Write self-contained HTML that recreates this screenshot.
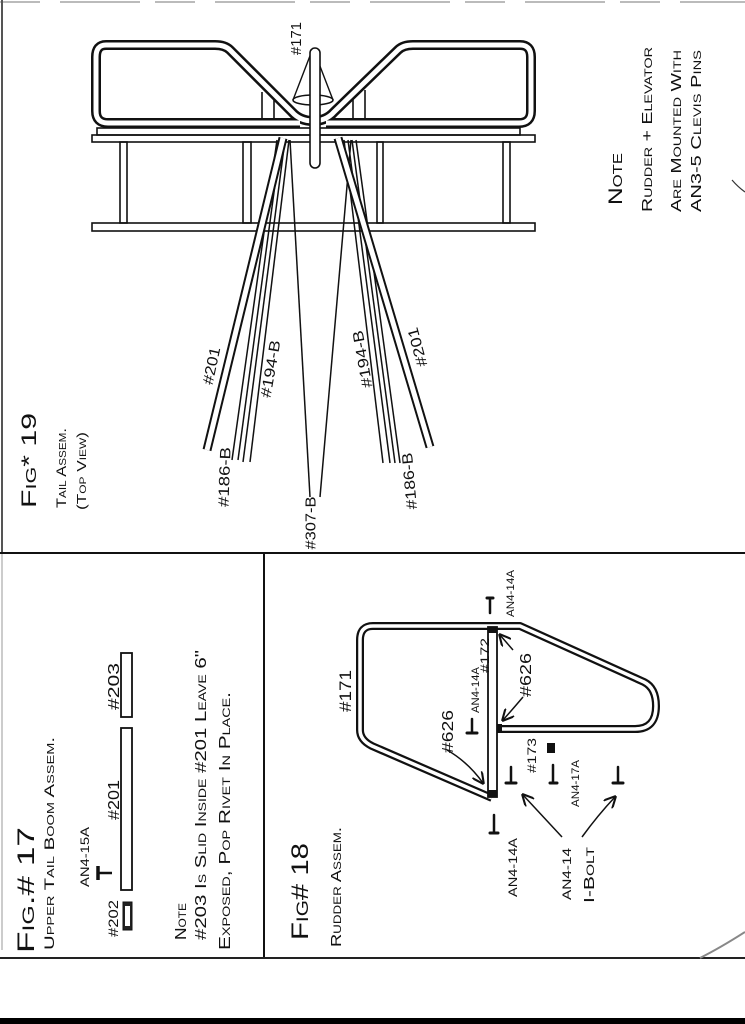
<!DOCTYPE html>
<html><head><meta charset="utf-8"><style>
html,body{margin:0;padding:0;background:#fff;}
svg{display:block;}
text{font-family:"Liberation Sans",sans-serif;fill:#111;font-variant:small-caps;}
</style></head><body>
<svg width="745" height="1024" viewBox="0 0 745 1024" xmlns="http://www.w3.org/2000/svg">
<rect width="745" height="1024" fill="#fff"/>
<line x1="0" y1="2" x2="745" y2="2" stroke="#bbb" stroke-width="2" stroke-dasharray="40 20 80 15"/>
<line x1="2" y1="0" x2="2" y2="553" stroke="#555" stroke-width="2"/>
<line x1="2" y1="553" x2="2" y2="950" stroke="#ccc" stroke-width="2"/>
<line x1="0" y1="553" x2="745" y2="553" stroke="#111" stroke-width="2"/>
<line x1="264" y1="553" x2="264" y2="957" stroke="#111" stroke-width="2"/>
<line x1="0" y1="958" x2="745" y2="958" stroke="#222" stroke-width="2"/>
<rect x="0" y="1018" width="745" height="6" fill="#000"/>

<!-- ============ FIG 19 tail ============ -->
<g fill="none" stroke="#111" stroke-width="1.6">
<rect x="97" y="128" width="423" height="7"/>
<rect x="92" y="135" width="443" height="7"/>
<rect x="92" y="223" width="443" height="8"/>
<rect x="120" y="142" width="7" height="81"/>
<rect x="243" y="142" width="8" height="81"/>
<rect x="377" y="142" width="6" height="81"/>
<rect x="503" y="142" width="7" height="81"/>
<line x1="262" y1="92" x2="262" y2="128"/><line x1="274" y1="100" x2="274" y2="128"/>
<line x1="353" y1="98" x2="353" y2="128"/><line x1="365" y1="90" x2="365" y2="128"/>
</g>
<g fill="none" stroke-linejoin="round">
<path d="M313 121 Q300 121 292 112 L230 50 Q225 45 215 45 L106 45 Q96 45 96 57 L96 111 Q96 123 108 123 L300 123 M313 121 Q326 121 334 112 L398 50 Q403 45 413 45 L520 45 Q531 45 531 57 L531 111 Q531 123 519 123 L326 123" stroke="#111" stroke-width="10"/>
<path d="M313 121 Q300 121 292 112 L230 50 Q225 45 215 45 L106 45 Q96 45 96 57 L96 111 Q96 123 108 123 L300 123 M313 121 Q326 121 334 112 L398 50 Q403 45 413 45 L520 45 Q531 45 531 57 L531 111 Q531 123 519 123 L326 123" stroke="#fff" stroke-width="5"/>
</g>
<path d="M313 48 L293 100 M313 48 L333 100" stroke="#111" stroke-width="1.4" fill="none"/>
<ellipse cx="313" cy="100" rx="20" ry="5" fill="#fff" stroke="#111" stroke-width="1.6"/>
<rect x="310" y="48" width="10" height="120" rx="5" fill="#fff" stroke="#111" stroke-width="1.6"/>
<g stroke="#111" stroke-width="1.5" fill="none">
<line x1="277" y1="140" x2="232" y2="460"/><line x1="281" y1="140" x2="238" y2="460"/>
<line x1="285" y1="140" x2="243" y2="462"/><line x1="289" y1="140" x2="250" y2="462"/>
<line x1="344" y1="140" x2="383" y2="463"/><line x1="348" y1="140" x2="390" y2="463"/>
<line x1="352" y1="140" x2="395" y2="463"/><line x1="356" y1="140" x2="400" y2="463"/>
<line x1="290" y1="140" x2="310" y2="497"/><line x1="351" y1="140" x2="320" y2="497"/>
</g>
<g stroke-linecap="butt">
<line x1="283" y1="138" x2="207" y2="450" stroke="#111" stroke-width="9"/>
<line x1="283" y1="138" x2="207" y2="450" stroke="#fff" stroke-width="5"/>
<line x1="338" y1="138" x2="430" y2="447" stroke="#111" stroke-width="9"/>
<line x1="338" y1="138" x2="430" y2="447" stroke="#fff" stroke-width="5"/>
</g>
<text transform="translate(301,55) rotate(-90)" font-size="15" textLength="33" lengthAdjust="spacingAndGlyphs">#171</text>
<g font-size="15" text-anchor="middle" dominant-baseline="central">
<text transform="translate(212,366) rotate(-78)" textLength="38" lengthAdjust="spacingAndGlyphs">#201</text>
<text transform="translate(271,369) rotate(-80)" textLength="58" lengthAdjust="spacingAndGlyphs">#194-B</text>
<text transform="translate(225,477) rotate(-88)" textLength="60" lengthAdjust="spacingAndGlyphs">#186-B</text>
<text transform="translate(311,523) rotate(-90)" textLength="53" lengthAdjust="spacingAndGlyphs">#307-B</text>
<text transform="translate(363,359) rotate(-100)" textLength="58" lengthAdjust="spacingAndGlyphs">#194-B</text>
<text transform="translate(418,347) rotate(-105)" textLength="40" lengthAdjust="spacingAndGlyphs">#201</text>
<text transform="translate(410,481) rotate(-95)" textLength="57" lengthAdjust="spacingAndGlyphs">#186-B</text>
</g>
<text transform="translate(36,508) rotate(-90)" font-size="21" textLength="95" lengthAdjust="spacingAndGlyphs">Fig* 19</text>
<text transform="translate(66,508) rotate(-90)" font-size="14" textLength="80" lengthAdjust="spacingAndGlyphs">Tail Assem.</text>
<text transform="translate(86,510) rotate(-90)" font-size="13" textLength="78" lengthAdjust="spacingAndGlyphs">(Top View)</text>
<text transform="translate(622,205) rotate(-90)" font-size="19" textLength="52" lengthAdjust="spacingAndGlyphs">Note</text>
<text transform="translate(652,212) rotate(-90)" font-size="15" textLength="165" lengthAdjust="spacingAndGlyphs">Rudder + Elevator</text>
<text transform="translate(681,212) rotate(-90)" font-size="15" textLength="162" lengthAdjust="spacingAndGlyphs">Are Mounted With</text>
<text transform="translate(701,212) rotate(-90)" font-size="15" textLength="162" lengthAdjust="spacingAndGlyphs">AN3-5 Clevis Pins</text>
<path d="M732 180 Q738 187 745 192" stroke="#333" stroke-width="1.2" fill="none"/>

<!-- ============ FIG 17 ============ -->
<text transform="translate(34,953) rotate(-90)" font-size="24" textLength="126" lengthAdjust="spacingAndGlyphs">Fig.# 17</text>
<text transform="translate(54,950) rotate(-90)" font-size="14" textLength="213" lengthAdjust="spacingAndGlyphs">Upper Tail Boom Assem.</text>
<text transform="translate(89,887) rotate(-90)" font-size="12" textLength="60" lengthAdjust="spacingAndGlyphs">AN4-15A</text>
<line x1="98" y1="873" x2="112" y2="873" stroke="#111" stroke-width="2.5"/>
<line x1="98" y1="866" x2="98" y2="880" stroke="#111" stroke-width="3.5"/>
<text transform="translate(118,937) rotate(-90)" font-size="14" textLength="37" lengthAdjust="spacingAndGlyphs">#202</text>
<rect x="123" y="902" width="9" height="28" fill="#222" stroke="#111"/>
<rect x="125" y="906" width="5" height="20" fill="#fff"/>
<text transform="translate(119,820) rotate(-90)" font-size="16" textLength="40" lengthAdjust="spacingAndGlyphs">#201</text>
<rect x="121" y="728" width="11" height="162" fill="none" stroke="#111" stroke-width="1.8"/>
<text transform="translate(119,710) rotate(-90)" font-size="16" textLength="47" lengthAdjust="spacingAndGlyphs">#203</text>
<rect x="121" y="653" width="11" height="64" fill="none" stroke="#111" stroke-width="1.8"/>
<text transform="translate(186,940) rotate(-90)" font-size="16" textLength="37" lengthAdjust="spacingAndGlyphs">Note</text>
<text transform="translate(206,940) rotate(-90)" font-size="16" textLength="290" lengthAdjust="spacingAndGlyphs">#203 Is Slid Inside #201 Leave 6"</text>
<text transform="translate(230,950) rotate(-90)" font-size="16" textLength="258" lengthAdjust="spacingAndGlyphs">Exposed, Pop Rivet In Place.</text>

<!-- ============ FIG 18 ============ -->
<text transform="translate(308,940) rotate(-90)" font-size="24" textLength="97" lengthAdjust="spacingAndGlyphs">Fig# 18</text>
<text transform="translate(341,947) rotate(-90)" font-size="15" textLength="120" lengthAdjust="spacingAndGlyphs">Rudder Assem.</text>
<g fill="none" stroke-linejoin="round">
<path d="M497 729 L635 729 Q656 729 656 706 Q656 688 644 682 L520 626 L373 626 Q360 626 360 640 L360 730 Q360 740 372 746 L492 798" stroke="#111" stroke-width="8"/>
<path d="M497 729 L635 729 Q656 729 656 706 Q656 688 644 682 L520 626 L373 626 Q360 626 360 640 L360 730 Q360 740 372 746 L492 798" stroke="#fff" stroke-width="3.5"/>
</g>
<rect x="488" y="627" width="9" height="170" fill="#fff" stroke="#111" stroke-width="1.8"/>
<rect x="488" y="627" width="9" height="6" fill="#111"/>
<rect x="488" y="790" width="9" height="7" fill="#111"/>
<rect x="497" y="724" width="5" height="9" fill="#111"/>
<g font-size="14">
<text transform="translate(351,712) rotate(-90)" font-size="17" textLength="42" lengthAdjust="spacingAndGlyphs">#171</text>
<text transform="translate(453,753) rotate(-90)" font-size="16" textLength="43" lengthAdjust="spacingAndGlyphs">#626</text>
<text transform="translate(531,697) rotate(-90)" font-size="16" textLength="44" lengthAdjust="spacingAndGlyphs">#626</text>
<text transform="translate(536,773) rotate(-90)" font-size="12" textLength="35" lengthAdjust="spacingAndGlyphs">#173</text>
<text transform="translate(489,673) rotate(-90)" font-size="12" textLength="35" lengthAdjust="spacingAndGlyphs">#172</text>
<text transform="translate(479,713) rotate(-90)" font-size="11" textLength="46" lengthAdjust="spacingAndGlyphs">AN4-14A</text>
<text transform="translate(514,617) rotate(-90)" font-size="11" textLength="47" lengthAdjust="spacingAndGlyphs">AN4-14A</text>
<text transform="translate(579,807) rotate(-90)" font-size="11" textLength="47" lengthAdjust="spacingAndGlyphs">AN4-17A</text>
<text transform="translate(517,897) rotate(-90)" font-size="12" textLength="59" lengthAdjust="spacingAndGlyphs">AN4-14A</text>
<text transform="translate(571,900) rotate(-90)" font-size="12" textLength="52" lengthAdjust="spacingAndGlyphs">AN4-14</text>
<text transform="translate(594,903) rotate(-90)" font-size="15" textLength="56" lengthAdjust="spacingAndGlyphs">I-Bolt</text>
</g>
<g stroke="#111" stroke-linecap="round">
<line x1="472" y1="719" x2="472" y2="733" stroke-width="2.5"/><line x1="467" y1="733" x2="477" y2="733" stroke-width="3"/>
<line x1="490" y1="598" x2="490" y2="613" stroke-width="2.5"/><line x1="487" y1="598" x2="493" y2="598" stroke-width="3"/>
<line x1="511" y1="767" x2="511" y2="783" stroke-width="2.5"/><line x1="506" y1="783" x2="516" y2="783" stroke-width="3"/>
<line x1="618" y1="767" x2="618" y2="783" stroke-width="2.5"/><line x1="613" y1="783" x2="623" y2="783" stroke-width="3"/>
<line x1="494" y1="815" x2="494" y2="833" stroke-width="2.5"/><line x1="490" y1="833" x2="498" y2="833" stroke-width="3"/>
<line x1="553" y1="765" x2="553" y2="783" stroke-width="2.5"/><line x1="550" y1="783" x2="557" y2="783" stroke-width="3"/>
</g>
<rect x="547" y="743" width="8" height="10" fill="#111"/>
<defs><marker id="ah" markerWidth="8" markerHeight="8" refX="7" refY="4" orient="auto"><path d="M0 0 L8 4 L0 8" fill="none" stroke="#111" stroke-width="1.4"/></marker></defs>
<g stroke="#111" stroke-width="1.5" fill="none" marker-end="url(#ah)">
<path d="M447 750 Q468 762 483 783"/>
<path d="M513 650 L500 635"/>
<path d="M523 697 Q512 710 503 720"/>
<path d="M562 837 L523 795"/>
<path d="M582 837 Q598 815 615 797"/>
</g>
<path d="M700 958 Q720 948 745 932" stroke="#888" stroke-width="2" fill="none"/>
</svg>
</body></html>
